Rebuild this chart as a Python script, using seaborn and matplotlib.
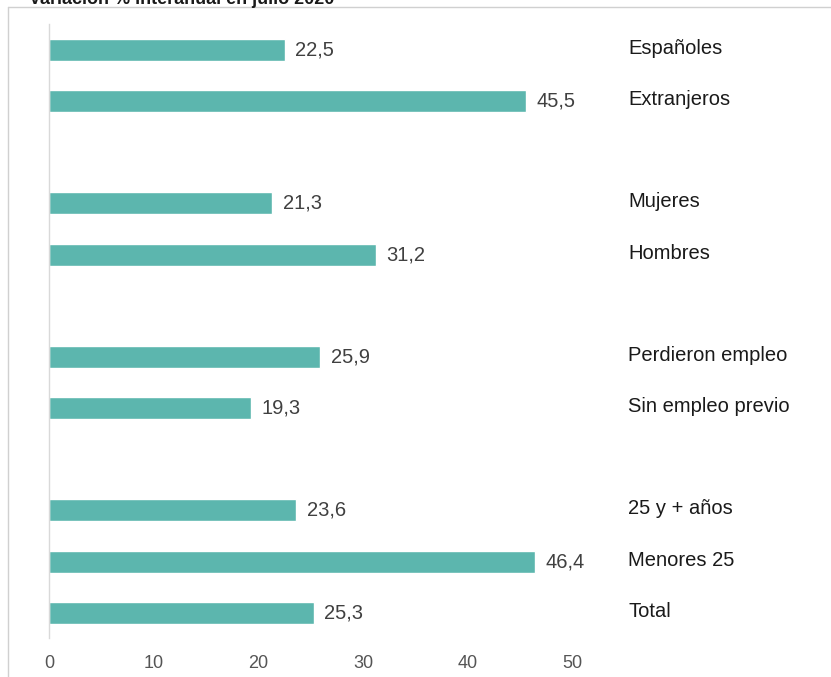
import pandas as pd
import matplotlib.pyplot as plt
import seaborn as sns
from matplotlib.lines import Line2D

sns.set_style("white")
plt.rcParams['font.family'] = ['Liberation Sans', 'DejaVu Sans']

# data, top to bottom (gaps between groups)
categorias = ["Españoles", "Extranjeros", "Mujeres", "Hombres",
              "Perdieron empleo", "Sin empleo previo", "25 y + años",
              "Menores 25", "Total"]
valores = [22.5, 45.5, 21.3, 31.2, 25.9, 19.3, 23.6, 46.4, 25.3]
orden = ["Españoles", "Extranjeros", "_g1", "Mujeres", "Hombres", "_g2",
         "Perdieron empleo", "Sin empleo previo", "_g3", "25 y + años",
         "Menores 25", "Total"]
ticks_x = [0, 10, 20, 30, 40, 50]

df = pd.DataFrame({"cat": categorias, "val": valores})

fig = plt.figure(figsize=(8.31, 6.77), dpi=100)
ax = fig.add_axes([0.059, 0.057, 0.915, 0.907])

sns.barplot(data=df, x="val", y="cat", order=orden, color="#5cb6ae",
            saturation=1, width=0.43, orient="h", ax=ax)

for c, v in zip(categorias, valores):
    pos = orden.index(c)
    ax.text(v + 1.0, pos, f"{v:.1f}".replace(".", ","), va="center",
            ha="left", fontsize=14.5, color="#404040")
    ax.text(55.3, pos - 0.03, c, va="center", ha="left", fontsize=14.5,
            color="#1a1a1a")

ax.set_xlim(0, 72.6)
ax.set_ylim(len(orden) - 0.5, -0.5)
ax.set_xticks(ticks_x)
ax.set_xticklabels([str(t) for t in ticks_x], fontsize=13, color="#555555")
ax.set_yticks([])
ax.set_xlabel("")
ax.set_ylabel("")
ax.tick_params(axis="x", length=0, pad=12)
for s in ["top", "right", "bottom"]:
    ax.spines[s].set_visible(False)
ax.spines["left"].set_color("#d9d9d9")
ax.spines["left"].set_linewidth(1)

# outer frame and title (cut off at the top, as in the source image)
fig.add_artist(Line2D([8 / 831, 1], [1 - 7 / 677, 1 - 7 / 677], color="#d0d0d0", lw=1))
fig.add_artist(Line2D([8 / 831, 8 / 831], [0, 1 - 7 / 677], color="#d0d0d0", lw=1))
fig.text(0.035, 1.0, "Variación % interanual en julio 2020", va="center",
         ha="left", fontsize=13, fontweight="bold", color="#1a1a1a")

fig.savefig("out.png", dpi=100)
